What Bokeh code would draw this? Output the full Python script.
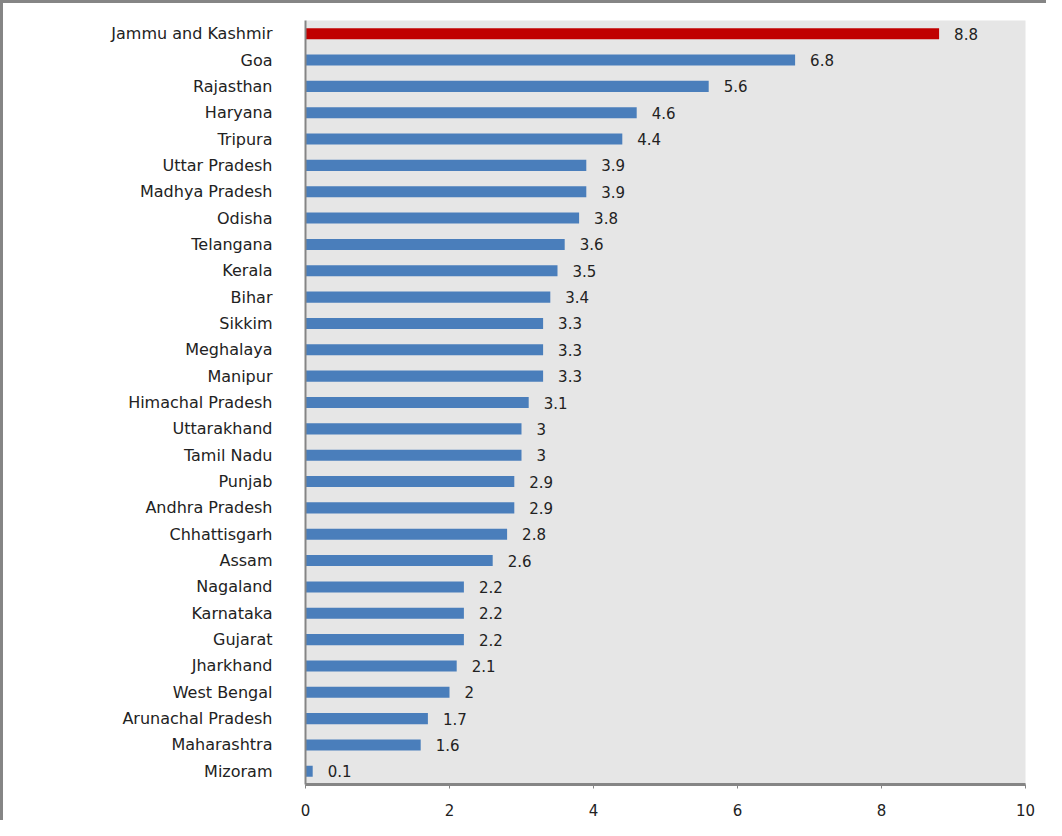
from bokeh.plotting import figure
from bokeh.models import FactorRange, ColumnDataSource, FixedTicker, LabelSet
from bokeh.core.properties import value
from bokeh.embed import file_html
from bokeh.resources import INLINE

states = ["Jammu and Kashmir", "Goa", "Rajasthan", "Haryana", "Tripura",
          "Uttar Pradesh", "Madhya Pradesh", "Odisha", "Telangana", "Kerala",
          "Bihar", "Sikkim", "Meghalaya", "Manipur", "Himachal Pradesh",
          "Uttarakhand", "Tamil Nadu", "Punjab", "Andhra Pradesh", "Chhattisgarh",
          "Assam", "Nagaland", "Karnataka", "Gujarat", "Jharkhand",
          "West Bengal", "Arunachal Pradesh", "Maharashtra", "Mizoram"]
rates = [8.8, 6.8, 5.6, 4.6, 4.4,
         3.9, 3.9, 3.8, 3.6, 3.5,
         3.4, 3.3, 3.3, 3.3, 3.1,
         3, 3, 2.9, 2.9, 2.8,
         2.6, 2.2, 2.2, 2.2, 2.1,
         2, 1.7, 1.6, 0.1]
x_ticks = [0, 2, 4, 6, 8, 10]

colors = ["#c00000" if i == 0 else "#4a7ebb" for i in range(len(states))]
labels = [("%g" % v) for v in rates]

src = ColumnDataSource(dict(state=states, rate=rates, color=colors, label=labels))

p = figure(width=1046, height=820, output_backend="svg", toolbar_location=None,
           y_range=FactorRange(*reversed(states)), x_range=(0, 10))
p.styles = {"border-left": "3px solid #858585", "border-top": "3px solid #858585",
            "box-sizing": "border-box"}
p.min_border_left = 302
p.min_border_right = 24
p.min_border_top = 17
p.min_border_bottom = 39
p.background_fill_color = "#e6e6e6"
p.border_fill_color = "white"
p.outline_line_color = None

p.hbar(y="state", right="rate", left=0, height=0.42, color="color",
       line_color=None, source=src)

lab = LabelSet(x="rate", y="state", text="label", source=src, x_offset=15,
               text_font=value("DejaVu Sans"), text_font_size="15px",
               text_color="#222222", text_baseline="middle", text_align="left")
p.add_layout(lab)

p.xgrid.grid_line_color = None
p.ygrid.grid_line_color = None

p.xaxis.ticker = FixedTicker(ticks=x_ticks)
p.xaxis.axis_line_color = "#858585"
p.xaxis.axis_line_width = 3
p.xaxis.major_tick_line_color = "#858585"
p.xaxis.major_tick_in = 0
p.xaxis.major_tick_out = 4
p.xaxis.minor_tick_line_color = None
p.xaxis.major_label_standoff = 15
p.xaxis.major_label_text_font = "DejaVu Sans"
p.xaxis.major_label_text_font_size = "15px"
p.xaxis.major_label_text_color = "#222222"

p.yaxis.axis_line_color = "#858585"
p.yaxis.axis_line_width = 2
p.yaxis.major_tick_line_color = None
p.yaxis.major_label_standoff = 27
p.yaxis.major_label_text_font = "DejaVu Sans"
p.yaxis.major_label_text_font_size = "16px"
p.yaxis.major_label_text_color = "#222222"

open("out.html", "w").write(file_html(p, INLINE))
